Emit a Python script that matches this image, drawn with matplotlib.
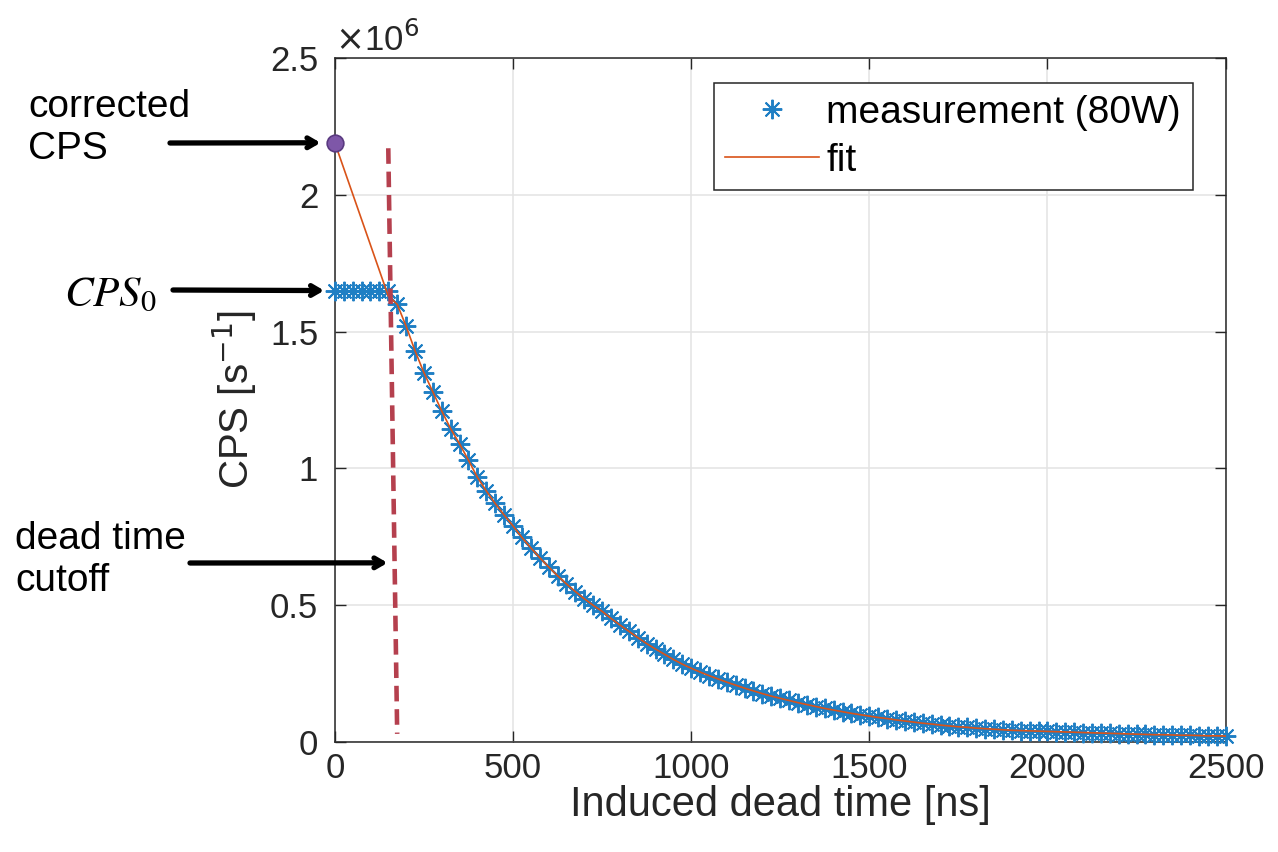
import numpy as np
import matplotlib
matplotlib.use("Agg")
import matplotlib.pyplot as plt

plt.rcParams['font.family'] = ['Liberation Sans', 'DejaVu Sans']

# induced dead time grid [ns], measured every 25 ns
dead_time = np.arange(0, 2501, 25)
# measured CPS in units of 1e6 (flat until the dead time cutoff)
cps_flat = [1.65, 1.65, 1.65, 1.65, 1.65, 1.65, 1.65]
cps_decay = [1.600, 1.520, 1.430, 1.350, 1.280, 1.210, 1.145, 1.090, 1.030, 0.968,
             0.918, 0.872, 0.830, 0.790, 0.748, 0.710, 0.674, 0.640, 0.608, 0.578,
             0.550, 0.524, 0.500, 0.478, 0.452, 0.428, 0.405, 0.382, 0.360, 0.340,
             0.321, 0.302, 0.285, 0.270, 0.256, 0.243, 0.231, 0.219, 0.208, 0.197,
             0.187, 0.177, 0.168, 0.160, 0.152, 0.144, 0.137, 0.130, 0.123, 0.117,
             0.111, 0.105, 0.100, 0.095, 0.090, 0.086, 0.081, 0.077, 0.073, 0.069,
             0.066, 0.062, 0.059, 0.056, 0.054, 0.051, 0.049, 0.047, 0.045, 0.043,
             0.042, 0.041, 0.040, 0.039, 0.038, 0.037, 0.036, 0.035, 0.034, 0.033,
             0.032, 0.031, 0.030, 0.029, 0.028, 0.027, 0.027, 0.026, 0.025, 0.025,
             0.024, 0.023, 0.023, 0.022]
cps_meas = cps_flat + cps_decay

# fit: corrected CPS at 0 ns, then the fitted curve from the cutoff on
corrected_cps = 2.19
fit_start = 150
fit_first = 1.63
cutoff_top, cutoff_bottom = 150, 175

fig = plt.figure(figsize=(12.78, 8.52), dpi=100)
ax = fig.add_axes([0.262, 0.129, 0.697, 0.803])

ax.plot(dead_time, cps_meas, linestyle='none', marker=(8, 2, 0), markersize=14,
        markeredgewidth=1.4, color='#1f7fc4', label='measurement (80W)', zorder=3,
        clip_on=False)

fit_x = [0, fit_start] + list(dead_time[len(cps_flat):])
fit_y = [corrected_cps, fit_first] + cps_decay
ax.plot(fit_x, fit_y, color='#D95319', linewidth=1.2, label='fit', zorder=4)

# dead time cutoff marker
ax.plot([cutoff_top, cutoff_bottom], [corrected_cps - 0.02, 0.03], color='#B5404E',
        linewidth=3.3, dashes=(3.4, 1.7), zorder=5)
ax.plot([0], [corrected_cps], marker='o', markersize=12, markerfacecolor='#7E57A8',
        markeredgecolor='#5A3A80', markeredgewidth=1.2, clip_on=False, zorder=6)

ax.set_xlim(0, 2500)
ax.set_ylim(0, 2.5)
ax.set_xticks([0, 500, 1000, 1500, 2000, 2500])
ax.set_yticks([0, 0.5, 1, 1.5, 2, 2.5])
ax.set_yticklabels(['0', '0.5', '1', '1.5', '2', '2.5'])
ax.grid(True, color='#e3e3e3', linewidth=1.1)
ax.set_axisbelow(True)
ax.tick_params(direction='in', length=8, width=1, labelsize=25, colors='#262626',
               top=True, right=True, pad=7)
ax.tick_params(axis='y', pad=12)
for s in ax.spines.values():
    s.set_color('#262626')
    s.set_linewidth(1.1)

ax.set_xlabel('Induced dead time [ns]', fontsize=30, color='#262626', labelpad=0)
ax.set_ylabel('CPS [s$^{-1}$]', fontsize=29, color='#262626', labelpad=8)
ax.text(0.0, 1.0, r'$\times$10$^6$', transform=ax.transAxes, fontsize=25,
        color='#262626', ha='left', va='bottom')

leg = ax.legend(loc='upper right', bbox_to_anchor=(0.963, 0.963), fontsize=28,
                fancybox=False, framealpha=1, edgecolor='#262626', borderpad=0.3,
                handlelength=2.4, handletextpad=0.2, labelspacing=0.3, borderaxespad=0)
leg.get_frame().set_linewidth(1.1)

# left side annotations
fig.text(28 / 1278, 1 - 128 / 852, 'corrected\nCPS', fontsize=28, ha='left', va='center',
         linespacing=1.2)
fig.text(64 / 1278, 1 - 294 / 852, r'$CPS_0$', fontsize=31, ha='left', va='center',
         family='serif', math_fontfamily='stix')
fig.text(15 / 1278, 1 - 560 / 852, 'dead time\ncutoff', fontsize=28, ha='left', va='center',
         linespacing=1.2)

arrows = [((-40, corrected_cps), (170, 852 - 143)),
          ((-30, 1.65), (173, 852 - 290)),
          ((148, 0.655), (190, 852 - 563))]
for head, tail in arrows:
    ax.annotate('', xy=head, xycoords='data', xytext=tail, textcoords='figure pixels',
                arrowprops=dict(arrowstyle='->,head_length=0.6,head_width=0.35',
                                color='black', lw=3.8, shrinkA=0, shrinkB=0),
                annotation_clip=False)

fig.savefig('out.png', dpi=100)
